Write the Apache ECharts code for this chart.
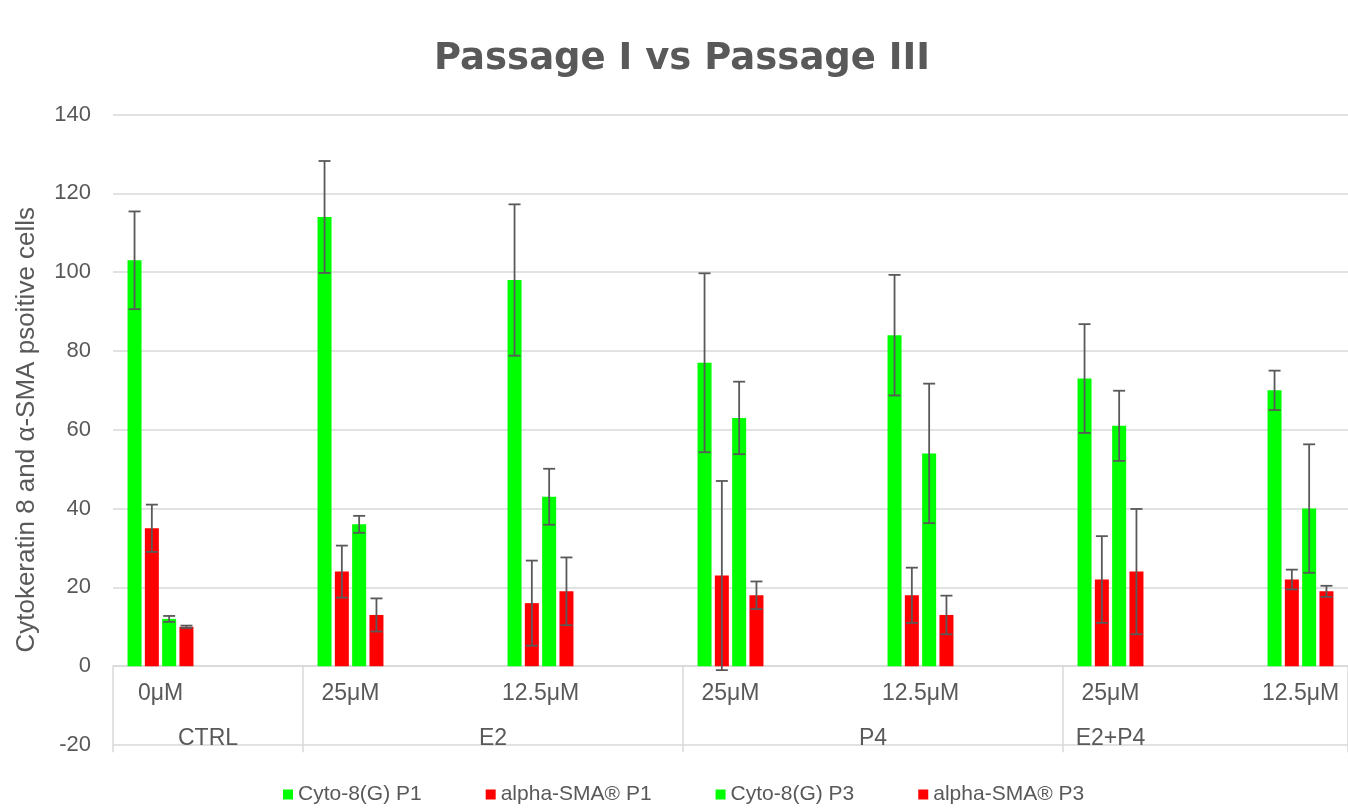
<!DOCTYPE html>
<html>
<head>
<meta charset="utf-8">
<script src="https://cdn.jsdelivr.net/npm/echarts@6/dist/echarts.min.js"></script>
<style>html,body{margin:0;padding:0;background:#fff;}#chart{width:1348px;height:810px;}</style>
</head>
<body>
<div id="chart"></div>
<script>
// ---- data ----
const subCategories = ['0μM', '25μM', '12.5μM', '25μM', '12.5μM', '25μM', '12.5μM'];
const groupNames = ['CTRL', 'E2', 'P4', 'E2+P4'];
const groupSizes = [1, 2, 2, 2];
const seriesNames = ['Cyto-8(G) P1', 'alpha-SMA® P1', 'Cyto-8(G) P3', 'alpha-SMA® P3'];
const cytoP1 = [103, 114, 98, 77, 84, 73, 70];
const cytoP1Err = [12.4, 14.2, 19.2, 22.7, 15.3, 13.8, 5.0];
const smaP1 = [35, 24, 16, 23, 18, 22, 22];
const smaP1Err = [6.0, 6.6, 10.8, 24.0, 7.0, 11.0, 2.5];
const cytoP3 = [12, 36, 43, 63, 54, 61, 40];
const cytoP3Err = [0.75, 2.15, 7.1, 9.2, 17.7, 8.9, 16.3];
const smaP3 = [10, 13, 19, 18, 13, 24, 19];
const smaP3Err = [0.3, 4.2, 8.6, 3.5, 4.9, 15.9, 1.4];
const yTicks = { min: -20, max: 140, interval: 20 };

// ---- layout / styles ----
const GREEN = '#00FF00', RED = '#FF0000', TXT = '#595959', GRIDC = '#D9D9D9';
const BAR_W = 14, BAR_GAP = 0.236;
const PITCH = BAR_W * (1 + BAR_GAP);
const FONT = 'Liberation Sans, Arial, sans-serif';
const SEP_LEN = 86;

// each sub-category occupies a slot followed by an empty spacer slot
const nSlots = subCategories.length * 2 - 1;
const slotLabels = [];
for (let s = 0; s < nSlots; s++) slotLabels.push(s % 2 === 0 ? subCategories[s / 2] : '');
const toSlots = arr => { const out = []; for (let s = 0; s < nSlots; s++) out.push(s % 2 === 0 ? arr[s / 2] : null); return out; };

const values = [cytoP1, smaP1, cytoP3, smaP3];
const errs = [cytoP1Err, smaP1Err, cytoP3Err, smaP3Err];
const colors = [GREEN, RED, GREEN, RED];

// group boundaries (in slot units)
const boundaries = [0];
groupSizes.forEach((n, i) => boundaries.push(boundaries[i] + 2 * n));
const groupLabelAt = [1, 4, 8, 10.5];

const errData = [];
values.forEach((vals, k) => vals.forEach((v, i) => errData.push([i * 2, v - errs[k][i], v + errs[k][i], k])));

const chart = echarts.init(document.getElementById('chart'));
const option = {
  animation: false,
  backgroundColor: '#fff',
  title: {
    text: 'Passage I vs Passage III',
    left: 429, top: 36,
    textStyle: { fontFamily: 'DejaVu Sans, sans-serif', fontWeight: 'bold', fontSize: 37, color: TXT }
  },
  legend: {
    data: seriesNames,
    bottom: 0, left: 278,
    icon: 'rect', itemWidth: 10, itemHeight: 10, itemGap: 64,
    textStyle: { fontFamily: FONT, fontSize: 21, color: TXT }
  },
  grid: { left: 113, top: 114.5, width: 1240, height: 630.5 },
  xAxis: [{
    type: 'category',
    data: slotLabels,
    axisLine: { show: true, onZero: true, lineStyle: { color: GRIDC, width: 1.5 } },
    axisTick: { show: true, length: SEP_LEN, interval: (i) => boundaries.indexOf(i) >= 0, lineStyle: { color: GRIDC, width: 1.5 } },
    axisLabel: { interval: 0, margin: 23 - SEP_LEN, fontFamily: FONT, fontSize: 23, color: TXT }
  }, {
    type: 'value', position: 'bottom', min: 0, max: nSlots, offset: -26,
    axisLine: { show: false, onZero: false }, axisTick: { show: false }, splitLine: { show: false },
    axisLabel: {
      customValues: groupLabelAt,
      formatter: (v) => { const i = groupLabelAt.indexOf(v); return i >= 0 ? groupNames[i] : ''; },
      margin: 8, fontFamily: FONT, fontSize: 23, color: TXT
    }
  }],
  yAxis: {
    type: 'value', min: yTicks.min, max: yTicks.max, interval: yTicks.interval,
    name: 'Cytokeratin 8 and α-SMA psoitive cells',
    nameLocation: 'middle', nameGap: 73,
    nameTextStyle: { fontFamily: FONT, fontSize: 26, color: TXT },
    axisLine: { show: false }, axisTick: { show: false },
    splitLine: { lineStyle: { color: GRIDC, width: 1.5 } },
    axisLabel: { margin: 22, fontFamily: FONT, fontSize: 22, color: TXT }
  },
  series: values.map((vals, k) => ({
    name: seriesNames[k], type: 'bar', xAxisIndex: 0,
    data: toSlots(vals), barWidth: BAR_W, barGap: (BAR_GAP * 100) + '%',
    itemStyle: { color: colors[k] }
  })).concat([{
    type: 'custom', xAxisIndex: 0, z: 10,
    data: errData,
    encode: { x: 0, y: [1, 2] },
    renderItem: (params, api) => {
      const slot = api.value(0), k = api.value(3);
      const lo = api.coord([slot, api.value(1)]);
      const hi = api.coord([slot, api.value(2)]);
      const x = lo[0] + (k - 1.5) * PITCH;
      const st = { stroke: TXT, lineWidth: 1.8 };
      return { type: 'group', children: [
        { type: 'line', shape: { x1: x, y1: lo[1], x2: x, y2: hi[1] }, style: st },
        { type: 'line', shape: { x1: x - 6, y1: lo[1], x2: x + 6, y2: lo[1] }, style: st },
        { type: 'line', shape: { x1: x - 6, y1: hi[1], x2: x + 6, y2: hi[1] }, style: st }
      ] };
    }
  }])
};
chart.setOption(option);
</script>
</body>
</html>
